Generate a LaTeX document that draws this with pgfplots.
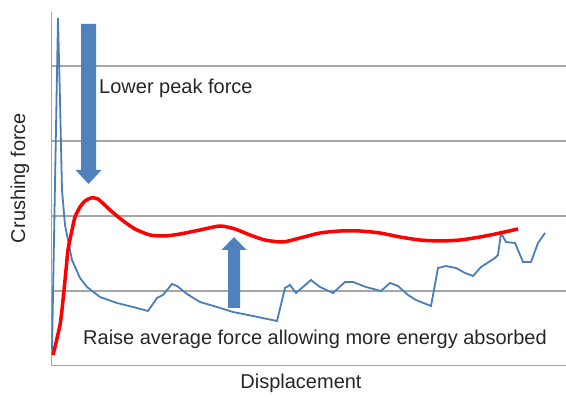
\documentclass[border=0pt]{standalone}
\usepackage{pgfplots}
\pgfplotsset{compat=1.18}
\usepackage{fontspec}
\setmainfont{Liberation Sans}
\definecolor{bl}{HTML}{4A7EBB}
\definecolor{arr}{HTML}{4F81BD}
\definecolor{gr}{HTML}{A6A6A6}
\begin{document}
\begin{tikzpicture}
\useasboundingbox (0pt,0pt) rectangle (566pt,398pt);
\begin{axis}[
  at={(51pt,32pt)}, anchor=south west,
  scale only axis, width=515pt, height=354pt,
  xmin=51, xmax=566, ymin=0, ymax=354,
  axis x line=bottom, axis y line=left,
  axis line style={gr, line width=1pt, -},
  xtick=\empty, ytick={75,150,225,300}, yticklabels={},
  major tick length=0pt,
  ymajorgrids, grid style={gr, line width=1.2pt},
  clip=false,
]
\addplot[bl, line width=1.8pt] coordinates {
(52,16) (58,348) (60,266) (62,176) (65,141) (72,106) (80,88) (87,79) (100,69) (117,63) (133,59) (148,55) (157,68) (163,71) (172,82) (177,80) (187,72) (200,64) (217,59) (233,54) (253,50) (277,45) (285,78) (290,81) (296,73) (311,86) (320,79) (333,73) (345,84) (353,84) (366,79) (381,75) (390,83) (398,80) (408,71) (416,66) (431,60) (438,98) (446,100) (456,98) (465,93) (473,90) (481,99) (495,108) (498,111) (501,133) (506,124) (515,123) (523,104) (531,104) (538,123) (545,133)
};
\addplot[red, line width=3.5pt, smooth, tension=0.4] coordinates {
(53,11) (60,41) (63,66) (66,96) (68,116) (72,136) (75,149) (80,159) (85,165) (91,168) (98,167) (110,156) (122,146) (135,137) (150,131) (165,130) (180,132) (200,136) (220,140) (235,137) (250,131) (265,126) (283,124) (300,128) (320,133) (340,135) (360,135) (380,133) (400,129) (420,126) (440,125) (460,126) (480,129) (500,133) (518,137)
};
% arrows
\fill[arr] (axis cs:81,342) -- (axis cs:96,342) -- (axis cs:96,196) -- (axis cs:101.5,196) -- (axis cs:88.5,182) -- (axis cs:75.5,196) -- (axis cs:81,196) -- cycle;
\fill[arr] (axis cs:228,58) -- (axis cs:240,58) -- (axis cs:240,116) -- (axis cs:246.5,116) -- (axis cs:234,129) -- (axis cs:221.5,116) -- (axis cs:228,116) -- cycle;
\node[anchor=west, font=\fontsize{20}{23}\selectfont, text=black!85, inner sep=0pt] at (axis cs:99,278) {Lower peak force};
\node[font=\fontsize{20}{23}\selectfont, text=black!85, inner sep=0pt] at (axis cs:315,27) {Raise average force allowing more energy absorbed};
\end{axis}
\node[font=\fontsize{20}{23}\selectfont, text=black!85, inner sep=0pt] at (301pt,15pt) {Displacement};
\node[rotate=90, font=\fontsize{20}{23}\selectfont, text=black!85, inner sep=0pt] at (20pt,220pt) {Crushing force};
\end{tikzpicture}
\end{document}
